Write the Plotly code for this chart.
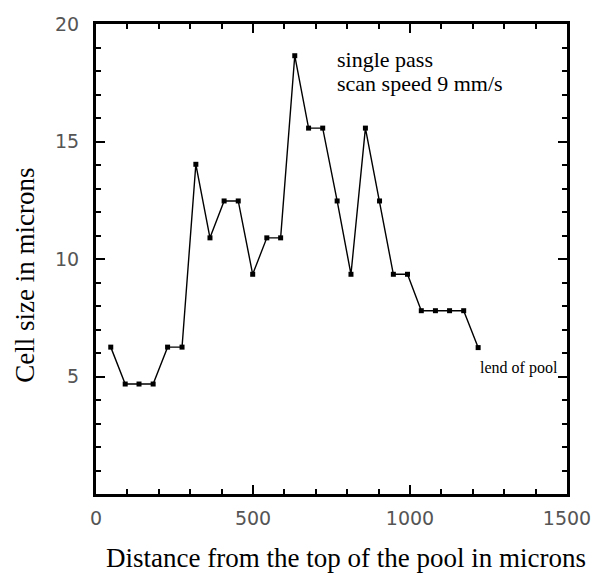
import plotly.graph_objects as go

distance = [47, 93, 137, 182, 228, 274, 318, 363, 408, 453, 499, 544, 588, 633,
            677, 722, 768, 812, 858, 903, 947, 992, 1036, 1081, 1126, 1171, 1217]
cell_size = [6.25, 4.68, 4.68, 4.68, 6.25, 6.25, 14.03, 10.9, 12.47, 12.47, 9.35,
             10.9, 10.9, 18.65, 15.57, 15.57, 12.47, 9.35, 15.57, 12.47, 9.35, 9.35,
             7.8, 7.8, 7.8, 7.8, 6.23]

x_title = "Distance from the top of the pool in microns"
y_title = "Cell size in microns"
note_lines = ["single pass", "scan speed 9 mm/s"]
end_note = "lend of pool"

fig = go.Figure()
fig.add_trace(go.Scatter(
    x=distance, y=cell_size, mode="lines+markers",
    line=dict(color="black", width=1.4),
    marker=dict(symbol="square", size=5, color="black"),
    showlegend=False, hoverinfo="skip",
))

tickfont = dict(family="DejaVu Sans", size=19, color="#555555")
serif = "Liberation Serif, Times New Roman, serif"

common = dict(
    ticks="inside", ticklen=9, tickwidth=1.5, tickcolor="black",
    showline=True, linewidth=3, linecolor="black", mirror="allticks",
    showgrid=False, zeroline=False, tickfont=tickfont, tickmode="linear",
)

fig.update_layout(
    width=603, height=573,
    margin=dict(l=96, r=27, t=24, b=79),
    paper_bgcolor="white", plot_bgcolor="white",
    xaxis=dict(range=[0, 1500], tick0=0, dtick=500,
               minor=dict(dtick=100, ticks="inside", ticklen=5, tickwidth=1.5,
                          tickcolor="black"),
               ticklabelstandoff=5, **common),
    yaxis=dict(range=[0, 20], tick0=0, dtick=5, labelalias={0: " "},
               minor=dict(dtick=1, ticks="inside", ticklen=5, tickwidth=1.5,
                          tickcolor="black"),
               ticklabelstandoff=10, **common),
    annotations=[
        dict(x=762, y=18.47, xref="x", yref="y", xanchor="left", yanchor="middle",
             text=note_lines[0], showarrow=False,
             font=dict(family=serif, size=22, color="black")),
        dict(x=762, y=17.45, xref="x", yref="y", xanchor="left", yanchor="middle",
             text=note_lines[1], showarrow=False,
             font=dict(family=serif, size=22, color="black")),
        dict(x=1218, y=5.38, xref="x", yref="y", xanchor="left", yanchor="middle",
             text=end_note, showarrow=False,
             font=dict(family=serif, size=16, color="black")),
        dict(x=0.53, y=-0.136, xref="paper", yref="paper", xanchor="center",
             yanchor="middle", text=x_title, showarrow=False,
             font=dict(family=serif, size=27, color="black")),
        dict(x=-0.15, y=0.465, xref="paper", yref="paper", xanchor="center",
             yanchor="middle", text=y_title, showarrow=False, textangle=-90,
             font=dict(family=serif, size=27, color="black")),
    ],
)

fig.write_html("out.html")
